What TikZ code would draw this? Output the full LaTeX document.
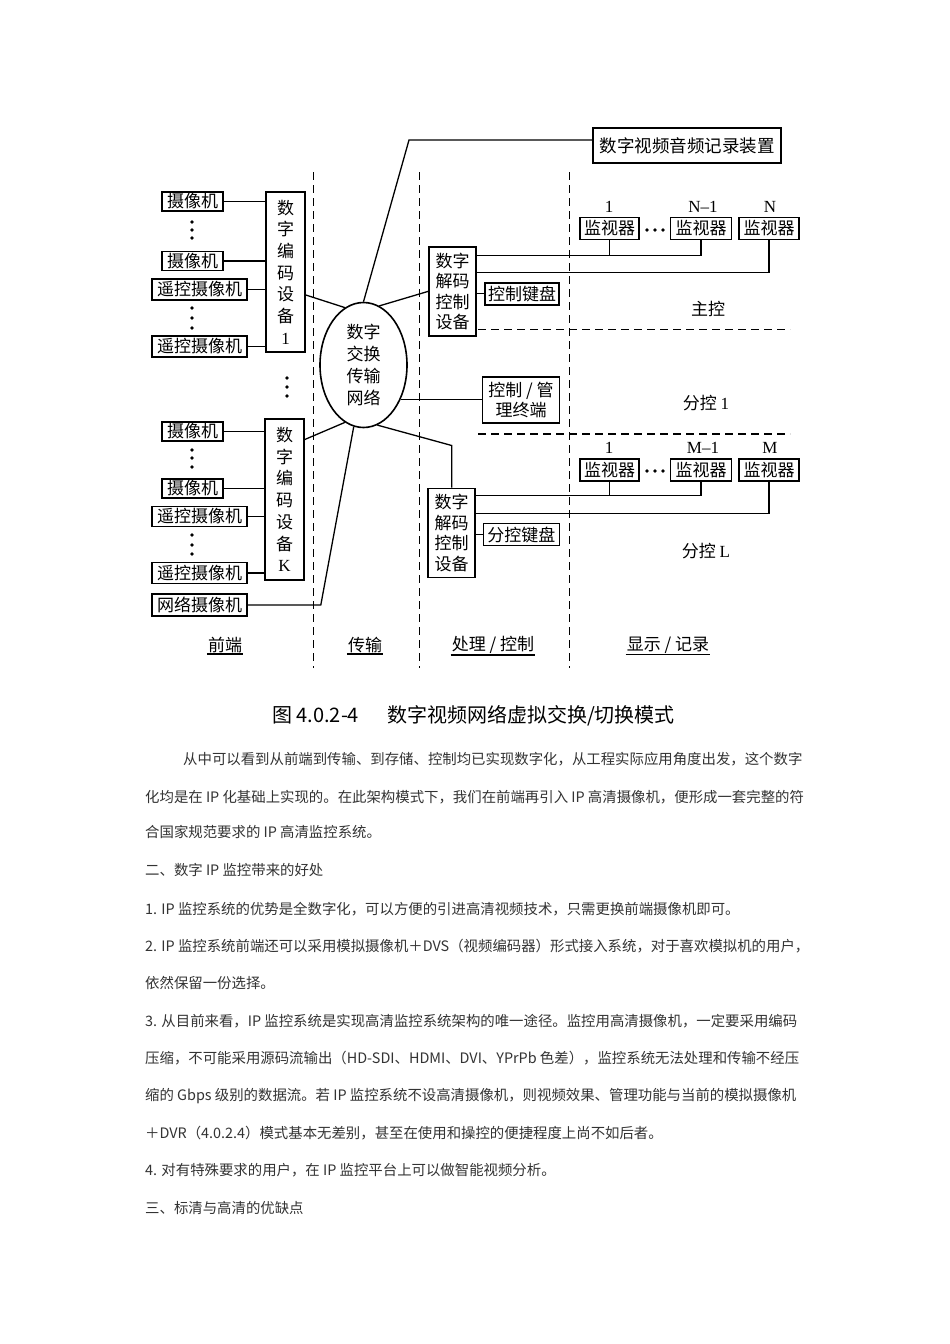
\documentclass[tikz,border=0pt]{standalone}
\usepackage{fontspec}
\setmainfont{Noto Sans CJK SC}
\newfontfamily\latserif{Liberation Serif}
\usetikzlibrary{shapes.geometric}
\newcommand{\diagfont}{\fontsize{17}{21.7}\selectfont}
\newcommand{\bodyfont}{\fontsize{14.4}{17}\selectfont}

\begin{document}
\begin{tikzpicture}[x=1pt,y=-1pt,
  box/.style={draw, line width=1.6pt, inner sep=0pt, font=\diagfont},
  link/.style={line width=1.3pt},
  sepline/.style={line width=1.8pt, dash pattern=on 8pt off 5pt},
  tag/.style={font=\diagfont, inner sep=1pt},
  num/.style={font=\latserif\fontsize{17}{20}\selectfont, inner sep=0pt},
  para/.style={anchor=west, inner sep=0pt, font=\bodyfont, text=black!80}]
\fill[white] (0,0) rectangle (950,1344);
\useasboundingbox (0,0) rectangle (950,1344);

% front end, group 1
\node[box, minimum width=61pt, minimum height=19pt] (c1a) at (192.5,201.5) {摄像机};
\node[box, minimum width=61pt, minimum height=19pt] (c1b) at (192.5,261) {摄像机};
\node[box, minimum width=95pt, minimum height=21pt] (r1a) at (199.5,289.5) {遥控摄像机};
\node[box, minimum width=95pt, minimum height=21pt] (r1b) at (199.5,346.5) {遥控摄像机};
\node[box, minimum width=39pt, minimum height=160pt, align=center] (enc1) at (285.5,272)
  {数\\字\\编\\码\\设\\备\\{\latserif 1}};

% front end, group K
\node[box, minimum width=61pt, minimum height=19pt] (c2a) at (192.5,431.5) {摄像机};
\node[box, minimum width=61pt, minimum height=19pt] (c2b) at (192.5,488.5) {摄像机};
\node[box, minimum width=95pt, minimum height=20pt] (r2a) at (199.5,516.5) {遥控摄像机};
\node[box, minimum width=95pt, minimum height=21pt] (r2b) at (199.5,573) {遥控摄像机};
\node[box, minimum width=95pt, minimum height=22pt] (netcam) at (199.5,605) {网络摄像机};
\node[box, minimum width=39pt, minimum height=161pt, align=center] (encK) at (284.5,499.5)
  {数\\字\\编\\码\\设\\备\\{\latserif K}};

\foreach \c in {c1a,c1b,r1a,r1b} \draw[link] (\c.east) -- (\c.east -| enc1.west);
\foreach \c in {c2a,c2b,r2a,r2b} \draw[link] (\c.east) -- (\c.east -| encK.west);
\foreach \y in {222,230,238,308,318,328,450,458,467,535,545,554} \fill (192,\y) circle (1.9);
\foreach \y in {378,387,396} \fill (287,\y) circle (1.9);

% network
\node[draw, ellipse, line width=1.6pt, inner sep=0pt, minimum width=87pt, minimum height=125pt,
  align=center, font=\fontsize{17}{22}\selectfont] (net) at (363.5,365) {数字\\交换\\传输\\网络};
\draw[link] ([yshift=-23pt]enc1.east) -- (net.108);
\draw[link] ([yshift=60pt]encK.east) -- (net.-108);
\draw[link] (netcam.east) -- ++(73,0) -- (net.-99);

% recorder
\node[box, minimum width=188pt, minimum height=35pt, font=\fontsize{17.5}{20}\selectfont] (rec) at (687,145.5) {数字视频音频记录装置};
\draw[link] (net.90) -- (409,140) -- (rec.west |- 0,140);

% main control
\node[box, minimum width=47pt, minimum height=89pt, align=center, font=\fontsize{17}{20.5}\selectfont] (dec1) at (452.7,291.3) {数字\\解码\\控制\\设备};
\node[box, minimum width=74pt, minimum height=22pt] (kb1) at (522,293.8) {控制键盘};
\node[box, minimum width=59pt, minimum height=22pt] (m1a) at (609.5,228.3) {监视器};
\node[box, minimum width=61pt, minimum height=22pt] (m1b) at (701,228.3) {监视器};
\node[box, minimum width=60pt, minimum height=22pt] (m1c) at (769,228.3) {监视器};
\node[num] (n1a) at (609,207) {1};
\node[num] (n1b) at (703,207) {N–1};
\node[num] (n1c) at (770,207) {N};
\draw[link] (net.75) -- (dec1.west);
\draw[link] (kb1.west) -- (kb1.west -| dec1.east);
\coordinate (p1) at ([yshift=36pt]dec1.east);
\coordinate (q1) at ([yshift=18.5pt]dec1.east);
\draw[link] (p1) -| (m1b.south);
\draw[link] (m1a.south) -- (m1a.south |- p1);
\draw[link] (q1) -| (m1c.south);

% control terminal
\node[box, minimum width=77pt, minimum height=46pt, align=center, font=\fontsize{17}{20}\selectfont] (term) at (521,399.7) {控制 / 管\\理终端};
\draw[link] (net.-43) -- (net.-43 -| term.west);

% sub control L
\node[box, minimum width=47pt, minimum height=89pt, align=center, font=\fontsize{17}{20.5}\selectfont] (dec2) at (451.7,532.8) {数字\\解码\\控制\\设备};
\node[box, minimum width=76pt, minimum height=22pt] (kb2) at (521.3,534.5) {分控键盘};
\node[box, minimum width=59pt, minimum height=22pt] (m2a) at (609.5,469.7) {监视器};
\node[box, minimum width=61pt, minimum height=22pt] (m2b) at (701,469.7) {监视器};
\node[box, minimum width=60pt, minimum height=22pt] (m2c) at (769,469.7) {监视器};
\node[num] (n2a) at (609,448) {1};
\node[num] (n2b) at (703,448) {M–1};
\node[num] (n2c) at (770,448) {M};
\draw[link] (net.-77) -- ([yshift=42pt]dec2.north) -- (dec2.north);
\draw[link] (kb2.west) -- (kb2.west -| dec2.east);
\coordinate (p2) at ([yshift=37pt]dec2.east);
\coordinate (q2) at ([yshift=19.5pt]dec2.east);
\draw[link] (p2) -| (m2b.south);
\draw[link] (m2a.south) -- (m2a.south |- p2);
\draw[link] (q2) -| (m2c.south);

\foreach \x in {647,655,663} {\fill (\x,230) circle (1.9); \fill (\x,471) circle (1.9);}

% zones
\draw[sepline] (313.5,172) -- (313.5,668);
\draw[sepline] (419.5,172) -- (419.5,668);
\draw[sepline] (569.5,172) -- (569.5,668);
\draw[sepline] (478,329.5) -- (790,329.5);
\draw[sepline] (478,434) -- (790,434);
\node[tag] (zk) at (708,309) {主控};
\node[tag] (fk1) at (706,403) {分控 {\latserif 1}};
\node[tag] (fkL) at (706,551) {分控 {\latserif L}};

\node[tag] (fe) at (225,645) {前端};
\node[tag] (tr) at (365,645) {传输};
\node[tag] (pc) at (493,645) {处理 / 控制};
\node[tag] (dr) at (668,645) {显示 / 记录};
\foreach \l in {fe,tr,pc,dr} \draw[line width=1.4pt] (\l.south west) -- (\l.south east);

% caption and text
\node[inner sep=0pt, font=\fontsize{20}{23}\selectfont] (cap) at (473.5,716) {图 4.0.2-4\hspace{28pt}数字视频网络虚拟交换/切换模式};
\node[para] (t1) at (183,759) {从中可以看到从前端到传输、到存储、控制均已实现数字化，从工程实际应用角度出发，这个数字};
\node[para] (t2) at (145,797) {化均是在 IP 化基础上实现的。在此架构模式下，我们在前端再引入 IP 高清摄像机，便形成一套完整的符};
\node[para] (t3) at (145,832) {合国家规范要求的 IP 高清监控系统。};
\node[para] (t4) at (145,870) {二、数字 IP 监控带来的好处};
\node[para] (t5) at (145,909) {1. IP 监控系统的优势是全数字化，可以方便的引进高清视频技术，只需更换前端摄像机即可。};
\node[para] (t6) at (145,946) {2. IP 监控系统前端还可以采用模拟摄像机＋DVS（视频编码器）形式接入系统，对于喜欢模拟机的用户，};
\node[para] (t7) at (145,983) {依然保留一份选择。};
\node[para] (t8) at (145,1021) {3. 从目前来看，IP 监控系统是实现高清监控系统架构的唯一途径。监控用高清摄像机，一定要采用编码};
\node[para] (t9) at (145,1058) {压缩，不可能采用源码流输出（HD-SDI、HDMI、DVI、YPrPb 色差），监控系统无法处理和传输不经压};
\node[para] (t10) at (145,1096) {缩的 Gbps 级别的数据流。若 IP 监控系统不设高清摄像机，则视频效果、管理功能与当前的模拟摄像机};
\node[para] (t11) at (145,1133) {＋DVR（4.0.2.4）模式基本无差别，甚至在使用和操控的便捷程度上尚不如后者。};
\node[para] (t12) at (145,1170) {4. 对有特殊要求的用户，在 IP 监控平台上可以做智能视频分析。};
\node[para] (t13) at (145,1208) {三、标清与高清的优缺点};
\end{tikzpicture}
\end{document}
